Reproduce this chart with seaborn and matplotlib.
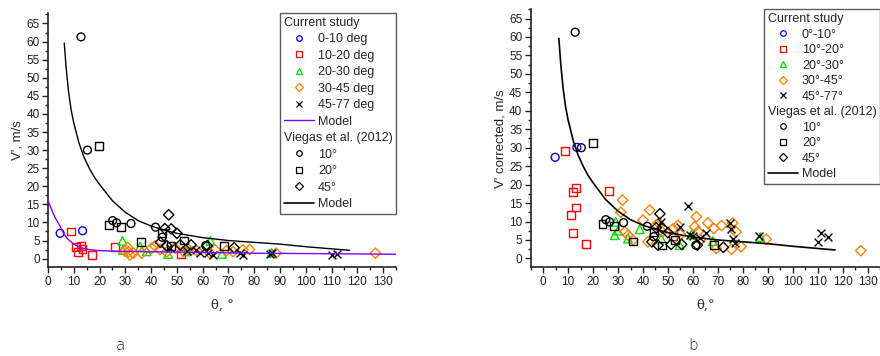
import matplotlib
matplotlib.use("Agg")
import matplotlib.pyplot as plt
import seaborn as sns
from matplotlib.lines import Line2D
from matplotlib.ticker import MultipleLocator

# ---------------- data ----------------
# panel a: V'
blue_x_a = [4.7, 13.4]
blue_y_a = [7.0, 7.7]
red_x_a = [8.8, 10.9, 11.8, 12.9, 13.4, 17.2, 26.0, 51.5]
red_y_a = [7.5, 3.1, 1.8, 3.5, 2.7, 1.0, 3.3, 1.2]
green_x_a = [28.9, 29.0, 35.7, 38.3, 46.6, 54.0, 63.0, 67.5, 86.7]
green_y_a = [4.9, 2.4, 3.3, 2.0, 1.3, 2.0, 4.9, 1.3, 1.6]
orange_x_a = [29.8, 30.9, 31.2, 31.8, 33.1, 36.4, 40.2, 41.5, 43.5, 46.0, 49.3,
              52.5, 54.5, 57.7, 62.8, 64.8, 69.3, 71.8, 75.6, 78.2, 88.5, 127.0]
orange_y_a = [2.1, 3.1, 1.9, 1.0, 1.5, 1.5, 2.9, 3.5, 2.5, 1.8, 2.9,
              2.0, 2.5, 2.2, 1.5, 2.5, 2.2, 1.9, 2.4, 2.5, 1.5, 1.5]
cross_x_a = [47.3, 54.0, 57.6, 59.0, 62.0, 64.0, 74.4, 75.7, 86.0, 87.0, 110.0, 112.0]
cross_y_a = [2.9, 2.2, 2.4, 1.5, 1.6, 1.0, 1.6, 1.0, 1.3, 1.6, 1.0, 1.3]

# panel b: V' corrected
blue_x_b = [4.8, 13.5]
blue_y_b = [27.4, 30.1]
red_x_b = [8.8, 11.1, 11.8, 13.0, 13.3, 11.8, 17.1, 26.3, 52.0]
red_y_b = [29.2, 11.7, 18.0, 19.1, 13.8, 6.8, 3.9, 18.2, 6.0]
green_x_b = [28.7, 29.1, 30.0, 34.0, 38.7, 47.3, 54.7, 59.5, 68.0, 87.0]
green_y_b = [6.3, 9.9, 7.5, 5.4, 7.9, 5.4, 3.6, 6.5, 4.7, 5.8]
orange_x_b = [31.1, 31.8, 32.7, 34.0, 36.0, 40.0, 42.0, 42.7, 45.3, 46.4, 47.7, 52.0,
              54.0, 55.0, 60.7, 61.4, 62.1, 63.0, 66.0, 68.4, 69.4, 71.5, 75.5, 75.9,
              77.3, 79.3, 89.4, 127.3]
orange_y_b = [12.5, 15.8, 7.2, 6.3, 5.0, 10.4, 4.5, 13.1, 9.1, 9.5, 7.2, 8.0,
              9.0, 6.5, 8.6, 11.3, 7.3, 5.0, 9.6, 8.1, 2.7, 8.9, 2.5, 9.6,
              7.2, 3.2, 5.2, 2.1]
cross_x_b = [47.4, 54.7, 58.0, 58.7, 60.0, 63.0, 65.3, 74.7, 75.3, 76.0, 77.0, 86.7,
             110.0, 111.4, 114.0]
cross_y_b = [9.8, 8.6, 14.2, 6.3, 6.0, 5.5, 6.8, 9.5, 8.0, 5.4, 4.1, 6.0,
             4.5, 6.9, 5.9]

# Viegas et al. (2012)
v10_x = [12.8, 15.3, 25.1, 26.6, 32.2, 41.7, 44.3, 61.2]
v10_y = [61.3, 30.0, 10.5, 9.9, 9.7, 8.7, 5.9, 3.6]
v20_x = [19.8, 23.8, 28.3, 36.0, 44.3, 47.6, 52.8, 68.3]
v20_y = [31.2, 9.3, 8.8, 4.6, 7.2, 3.5, 5.0, 3.6]
v45_x = [43.6, 45.3, 46.0, 46.8, 47.8, 50.0, 51.3, 55.5, 61.8, 72.2]
v45_y = [4.5, 8.3, 3.6, 12.1, 8.2, 7.0, 3.8, 3.8, 3.6, 3.0]

# model curves
model_x = [6.3, 7, 8, 9, 10, 12, 14, 16, 18, 20, 25, 30, 35, 40, 45, 50, 60, 70, 80,
           90, 100, 110, 117]
model_y = [59.6, 53, 46, 41, 37.5, 32, 28, 25, 22.5, 20.5, 16, 12.8, 10.5, 9.0, 7.9,
           7.0, 5.8, 5.0, 4.5, 4.0, 3.3, 2.7, 2.3]
purple_x = [0, 1, 2, 3, 4, 5, 6, 7, 8, 10, 12, 14, 16, 20, 30, 40, 60, 80, 100, 120, 135]
purple_y = [16, 14.3, 12.5, 11, 9.8, 8.5, 7.0, 6.0, 5.2, 4.0, 3.3, 2.8, 2.5, 2.2, 2.0,
            1.9, 1.7, 1.5, 1.4, 1.3, 1.2]

labels_a = ["0-10 deg", "10-20 deg", "20-30 deg", "30-45 deg", "45-77 deg"]
labels_b = ["0\u00b0-10\u00b0", "10\u00b0-20\u00b0", "20\u00b0-30\u00b0",
            "30\u00b0-45\u00b0", "45\u00b0-77\u00b0"]
viegas_labels = ["10\u00b0", "20\u00b0", "45\u00b0"]

C_BLUE, C_RED, C_GREEN, C_ORANGE, C_BLACK, C_PURPLE = (
    "#0000ff", "#ff0000", "#00e000", "#ff8000", "#000000", "#8000ff")

sns.set_theme(style="ticks")
plt.rcParams["font.family"] = ["Liberation Sans", "DejaVu Sans"]

fig = plt.figure(figsize=(8.8, 3.56), dpi=100)
ax_a = fig.add_axes([48 / 880, 88.7 / 356, 348 / 880, 254.3 / 356])
ax_b = fig.add_axes([530.7 / 880, 88.7 / 356, 349.3 / 880, 258 / 356])


def scat(ax, x, y, marker, color, s=32):
    if marker == "x":
        sns.scatterplot(x=x, y=y, marker="x", s=s, color=color, linewidth=1, ax=ax,
                        legend=False, zorder=3)
    else:
        sns.scatterplot(x=x, y=y, marker=marker, s=s, facecolor="none",
                        edgecolor=color, linewidth=1, ax=ax, legend=False, zorder=3)


def style_axes(ax, xlim, ylim, ylabel, xlabel):
    ax.set_xlim(*xlim)
    ax.set_ylim(*ylim)
    ax.xaxis.set_major_locator(MultipleLocator(10))
    ax.xaxis.set_minor_locator(MultipleLocator(5))
    ax.yaxis.set_major_locator(MultipleLocator(5))
    ax.yaxis.set_minor_locator(MultipleLocator(2.5))
    ax.set_xticks([t for t in range(0, 131, 10)])
    ax.tick_params(which="major", direction="out", length=4, width=1, labelsize=8.5,
                   pad=2, colors="#222222")
    ax.tick_params(which="minor", direction="out", length=2, width=1)
    for sp in ["top", "right"]:
        ax.spines[sp].set_visible(False)
    for sp in ["left", "bottom"]:
        ax.spines[sp].set_color("#222222")
        ax.spines[sp].set_linewidth(1.2)
    ax.set_ylabel(ylabel, fontsize=9.5, labelpad=2)
    ax.set_xlabel(xlabel, fontsize=9.5, labelpad=8, family=["DejaVu Serif"])


def make_legend(ax, cur_labels, model_color_first, include_first_model, spacing):
    def mk(marker, color):
        if marker == "x":
            return Line2D([], [], ls="none", marker="x", color=color, ms=4, mew=0.9)
        return Line2D([], [], ls="none", marker=marker, mfc="none", mec=color, ms=4,
                      mew=0.9)
    blank = Line2D([], [], ls="none")
    handles = [blank, mk("o", C_BLUE), mk("s", C_RED), mk("^", C_GREEN),
               mk("D", C_ORANGE), mk("x", C_BLACK)]
    labels = ["Current study"] + cur_labels
    if include_first_model:
        handles.append(Line2D([], [], color=model_color_first, lw=1))
        labels.append("Model")
    handles += [blank, mk("o", C_BLACK), mk("s", C_BLACK), mk("D", C_BLACK),
                Line2D([], [], color=C_BLACK, lw=1.2)]
    labels += ["Viegas et al. (2012)"] + viegas_labels + ["Model"]
    leg = ax.legend(handles, labels, loc="upper right", bbox_to_anchor=(1, 1),
                    borderaxespad=0, frameon=True, fancybox=False, fontsize=9,
                    handlelength=2.4, handletextpad=0.35, labelspacing=spacing,
                    borderpad=0.3)
    leg.get_frame().set_edgecolor("#333333")
    leg.get_frame().set_linewidth(1.0)
    headers = {"Current study", "Viegas et al. (2012)"}
    vp = leg._legend_handle_box
    for col in vp.get_children():
        for row in col.get_children():
            da, ta = row.get_children()
            if ta._text.get_text() in headers:
                da.width = 0
                row.sep = 0
    return leg


# panel a
scat(ax_a, blue_x_a, blue_y_a, "o", C_BLUE)
scat(ax_a, red_x_a, red_y_a, "s", C_RED)
scat(ax_a, green_x_a, green_y_a, "^", C_GREEN, s=38)
scat(ax_a, orange_x_a, orange_y_a, "D", C_ORANGE, s=28)
scat(ax_a, cross_x_a, cross_y_a, "x", C_BLACK, s=32)
scat(ax_a, v10_x, v10_y, "o", C_BLACK)
scat(ax_a, v20_x, v20_y, "s", C_BLACK)
scat(ax_a, v45_x, v45_y, "D", C_BLACK, s=28)
sns.lineplot(x=purple_x, y=purple_y, color=C_PURPLE, lw=1, ax=ax_a, zorder=4)
sns.lineplot(x=model_x, y=model_y, color=C_BLACK, lw=1, ax=ax_a, zorder=4)
style_axes(ax_a, (0, 135), (-2.4, 67.9), "V', m/s", "\u03b8, \u00b0")
make_legend(ax_a, labels_a, C_PURPLE, True, 0.36)

# panel b
scat(ax_b, blue_x_b, blue_y_b, "o", C_BLUE)
scat(ax_b, red_x_b, red_y_b, "s", C_RED)
scat(ax_b, green_x_b, green_y_b, "^", C_GREEN, s=38)
scat(ax_b, orange_x_b, orange_y_b, "D", C_ORANGE, s=28)
scat(ax_b, cross_x_b, cross_y_b, "x", C_BLACK, s=32)
scat(ax_b, v10_x, v10_y, "o", C_BLACK)
scat(ax_b, v20_x, v20_y, "s", C_BLACK)
scat(ax_b, v45_x, v45_y, "D", C_BLACK, s=28)
sns.lineplot(x=model_x, y=model_y, color=C_BLACK, lw=1.2, ax=ax_b, zorder=4)
style_axes(ax_b, (-5, 135), (-2.4, 67.5), "V' corrected, m/s", "\u03b8,\u00b0")
make_legend(ax_b, labels_b, C_BLACK, False, 0.28)

fig.text(120 / 880, 3 / 356, "a", fontsize=11, ha="center", va="bottom",
         family=["DejaVu Sans"], fontweight="light")
fig.text(693 / 880, 3 / 356, "b", fontsize=11, ha="center", va="bottom",
         family=["DejaVu Sans"], fontweight="light")

fig.savefig("out.png", dpi=100)
